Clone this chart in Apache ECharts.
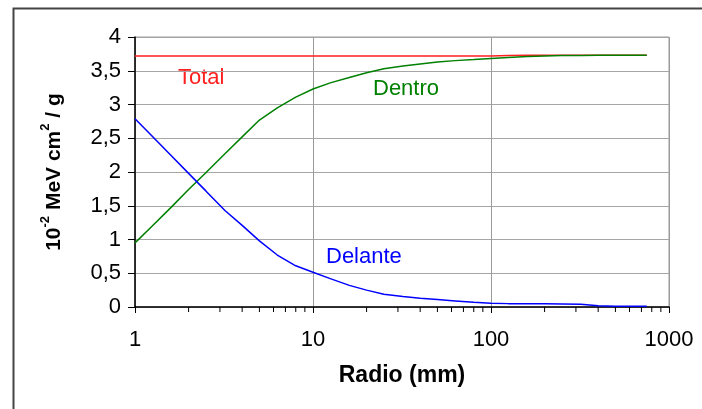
<!DOCTYPE html>
<html>
<head>
<meta charset="utf-8">
<script src="https://cdn.jsdelivr.net/npm/echarts@6/dist/echarts.min.js"></script>
<style>
html,body{margin:0;padding:0;background:#fff;}
#chart{width:702px;height:409px;}
</style>
</head>
<body>
<div id="chart"></div>
<script>
// Radius (mm) sample points
const radio = [1, 1.25, 1.6, 2, 2.5, 3.2, 4, 5, 6.3, 8, 10, 12.5, 16, 20, 25, 32, 40, 50, 63, 80, 100, 125, 160, 200, 250, 320, 400, 500, 630, 750];
// Series values (10^-2 MeV cm^2 / g)
const total   = [3.72, 3.72, 3.72, 3.72, 3.72, 3.72, 3.72, 3.72, 3.72, 3.72, 3.72, 3.72, 3.72, 3.72, 3.72, 3.72, 3.72, 3.72, 3.72, 3.72, 3.72, 3.725, 3.73, 3.73, 3.73, 3.73, 3.73, 3.73, 3.73, 3.73];
const dentro  = [0.95, 1.20, 1.48, 1.74, 1.99, 2.27, 2.52, 2.77, 2.95, 3.11, 3.23, 3.32, 3.40, 3.47, 3.53, 3.57, 3.60, 3.63, 3.65, 3.665, 3.68, 3.695, 3.71, 3.72, 3.725, 3.725, 3.73, 3.73, 3.73, 3.73];
const delante = [2.79, 2.53, 2.24, 1.98, 1.72, 1.43, 1.21, 0.98, 0.77, 0.61, 0.515, 0.42, 0.32, 0.25, 0.19, 0.155, 0.13, 0.11, 0.09, 0.07, 0.055, 0.05, 0.05, 0.048, 0.046, 0.04, 0.02, 0.01, 0.01, 0.01];
// Axis ticks
const yTicks = [0, 0.5, 1, 1.5, 2, 2.5, 3, 3.5, 4];
const xMajor = [1, 10, 100, 1000];
const xMinor = [2, 3, 4, 5, 6, 7, 8, 9, 20, 30, 40, 50, 60, 70, 80, 90, 200, 300, 400, 500, 600, 700, 800, 900];
// Labels
const seriesNames = ['Total', 'Dentro', 'Delante'];
const xTitle = 'Radio (mm)';

const FONT = '"Liberation Sans", Arial, sans-serif';
const zip = (xs, ys) => xs.map((x, i) => [x, ys[i]]);

const chart = echarts.init(document.getElementById('chart'), null, {renderer: 'canvas'});
chart.setOption({
  animation: false,
  backgroundColor: '#fff',
  grid: {left: 135, top: 37, right: 33, bottom: 102, show: true, borderColor: '#9a9a9a', borderWidth: 1},
  xAxis: {
    type: 'log', logBase: 10, min: xMajor[0], max: xMajor[xMajor.length - 1],
    name: xTitle, nameLocation: 'middle', nameGap: 57,
    nameTextStyle: {fontFamily: FONT, fontSize: 23, fontWeight: 'bold', color: '#000'},
    axisLine: {show: true, onZero: false, lineStyle: {color: '#000', width: 1.5}},
    axisTick: {show: true, inside: false, length: 6, lineStyle: {color: '#000'}},
    axisLabel: {fontFamily: FONT, fontSize: 22, color: '#000', margin: 22,
      formatter: v => String(v)},
    splitLine: {show: true, lineStyle: {color: '#9a9a9a', width: 1}},
    minorTick: {show: false}
  },
  yAxis: {
    type: 'value', min: yTicks[0], max: yTicks[yTicks.length - 1], interval: 0.5,
    axisLine: {show: true, lineStyle: {color: '#000', width: 1.5}},
    axisTick: {show: true, inside: false, length: 7, lineStyle: {color: '#000'}},
    axisLabel: {fontFamily: FONT, fontSize: 22, color: '#000', margin: 14,
      formatter: v => String(v).replace('.', ',')},
    splitLine: {show: true, lineStyle: {color: '#a6a6a6', width: 1}}
  },
  series: [
    {name: seriesNames[0], type: 'line', data: zip(radio, total), showSymbol: false, symbol: 'none',
      lineStyle: {color: '#ff2020', width: 1.5}, z: 3},
    {name: seriesNames[1], type: 'line', data: zip(radio, dentro), showSymbol: false, symbol: 'none',
      lineStyle: {color: '#008000', width: 1.5}, z: 4},
    {name: seriesNames[2], type: 'line', data: zip(radio, delante), showSymbol: false, symbol: 'none',
      lineStyle: {color: '#0000ff', width: 1.5}, z: 4},
    {type: 'custom', data: xMinor.map(v => [v, 0]), clip: false, silent: true, z: 5,
      renderItem: (params, api) => {
        const p = api.coord([api.value(0), 0]);
        return {type: 'line', shape: {x1: p[0], y1: p[1], x2: p[0], y2: p[1] + 5},
          style: {stroke: '#000', lineWidth: 1}};
      }}
  ],
  graphic: [
    {type: 'rect', left: 11, top: 6, shape: {x: 0, y: 0, width: 720, height: 430},
      style: {fill: 'none', stroke: '#444', lineWidth: 2}, silent: true, z: 0},
    {type: 'text', left: 178, top: 67, style: {text: 'Total', fill: '#ff2020', font: '22px ' + FONT}},
    {type: 'text', left: 373, top: 78, style: {text: 'Dentro', fill: '#008000', font: '22px ' + FONT}},
    {type: 'text', left: 326, top: 246, style: {text: 'Delante', fill: '#0000ff', font: '22px ' + FONT}},
    {type: 'text', x: 52, y: 172, rotation: Math.PI / 2,
      style: {
        text: '{m|10}{s|-2}{m| MeV cm}{s|2}{m| / g}',
        align: 'center', verticalAlign: 'middle',
        rich: {
          m: {fontFamily: FONT, fontSize: 21, fontWeight: 'bold', fill: '#000', lineHeight: 26, verticalAlign: 'bottom'},
          s: {fontFamily: FONT, fontSize: 13, fontWeight: 'bold', fill: '#000', lineHeight: 26, verticalAlign: 'top'}
        }
      }}
  ]
});
</script>
</body>
</html>
